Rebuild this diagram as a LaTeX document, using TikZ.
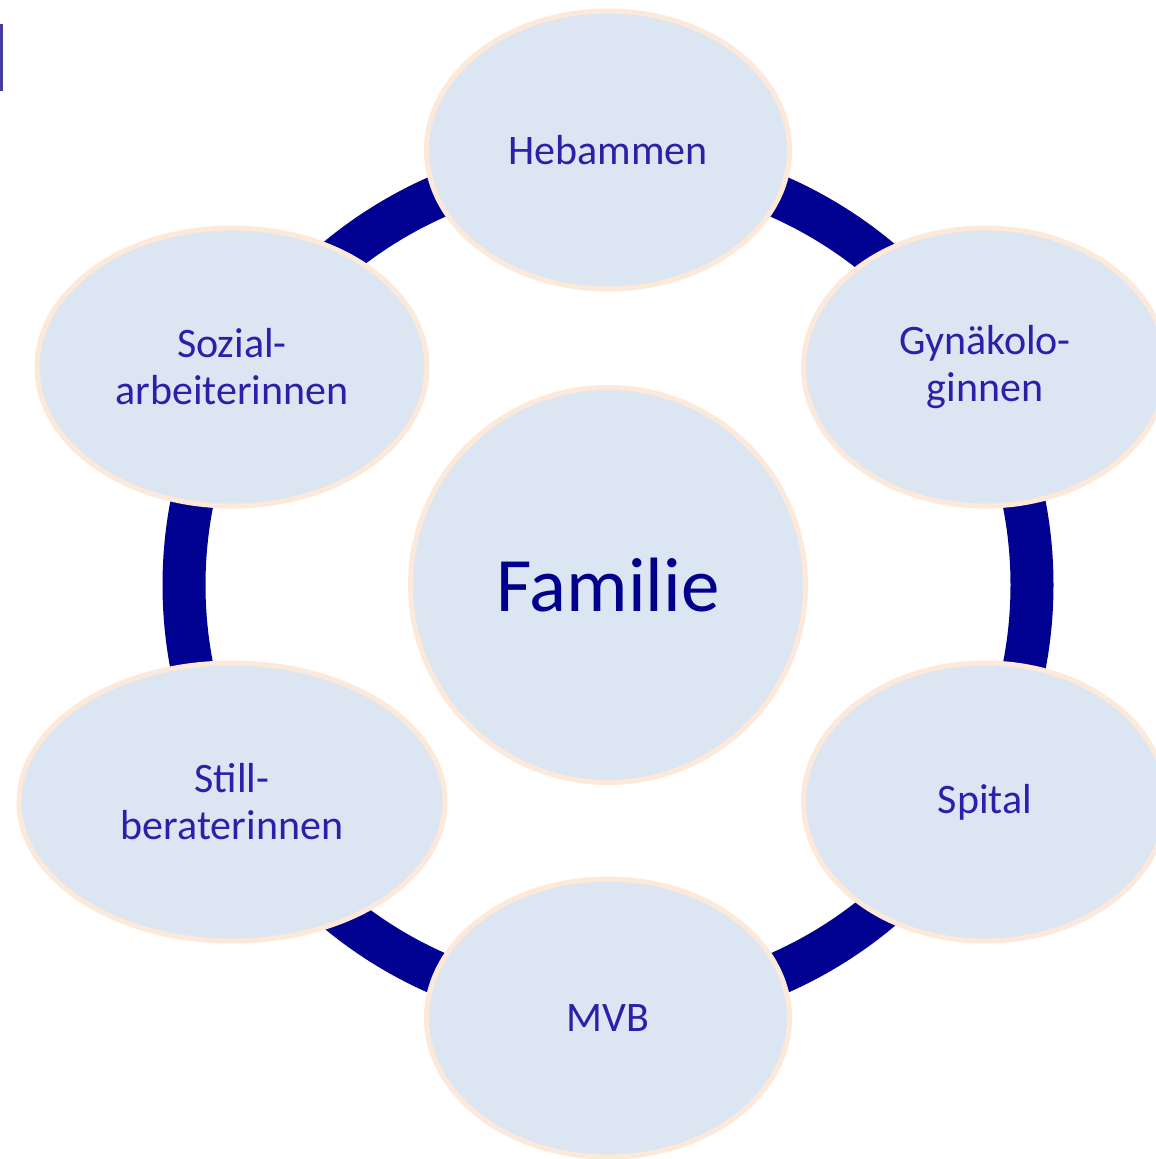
\documentclass[tikz,border=0pt]{standalone}
\usepackage{fontspec}
\setmainfont{Carlito}
\usetikzlibrary{shapes.geometric}
\definecolor{ringblue}{RGB}{0,0,145}
\definecolor{bubblefill}{RGB}{220,230,242}
\definecolor{bubbleline}{RGB}{253,233,217}
\definecolor{labelblue}{RGB}{46,30,170}
\definecolor{titleblue}{RGB}{0,0,140}
\definecolor{barblue}{RGB}{68,60,160}
\tikzset{
  bubble/.style={ellipse, draw=bubbleline, line width=5pt, fill=bubblefill,
    inner sep=0pt, align=center, text=labelblue,
    font=\fontsize{42}{47}\selectfont},
  hub/.style={circle, draw=bubbleline, line width=5pt, fill=bubblefill,
    inner sep=0pt, minimum size=395pt, text=titleblue,
    font=\fontsize{77}{90}\selectfont},
  ring/.style={draw=ringblue, line width=43pt}
}
\begin{document}
\begin{tikzpicture}[x=1pt, y=-1pt]
\useasboundingbox (0,0) rectangle (1156,1159);
\clip (0,0) rectangle (1156,1159);
\fill[white] (0,0) rectangle (1156,1159);
\fill[barblue] (0,24) rectangle (3.3,91);
\coordinate (c) at (608,585);
\draw[ring] (c) circle (424pt);
\node[hub] (familie) at (c) {Familie};
\node[bubble, minimum width=363pt, minimum height=278pt] (heb) at (608,150) {Hebammen};
\node[bubble, minimum width=363pt, minimum height=278pt] (gyn) at (985,367) {Gynäkolo-\\ginnen};
\node[bubble, minimum width=363pt, minimum height=278pt] (spital) at (985,802) {Spital};
\node[bubble, minimum width=363pt, minimum height=278pt] (mvb) at (608,1018) {MVB};
\node[bubble, minimum width=426pt, minimum height=278pt] (still) at (232,802) {Still-\\beraterinnen};
\node[bubble, minimum width=390pt, minimum height=278pt] (sozial) at (232,367) {Sozial-\\arbeiterinnen};
\end{tikzpicture}
\end{document}
